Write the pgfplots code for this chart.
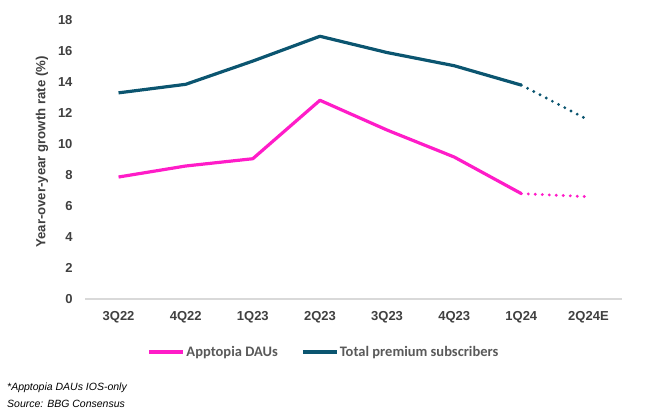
\documentclass[border=0pt]{standalone}
\usepackage{pgfplots}
\pgfplotsset{compat=1.18}
\usepackage{fontspec}
\setmainfont{Liberation Sans}
\newfontfamily\legfont{Carlito}
\definecolor{teal1}{HTML}{0B5570}
\definecolor{pink1}{HTML}{FF1CC8}
\definecolor{txt}{HTML}{404040}
\definecolor{legtxt}{HTML}{595959}
\definecolor{axl}{HTML}{D9D9D9}
\begin{document}
\begin{tikzpicture}
\path[use as bounding box] (0,0) rectangle (646bp,413bp);
\begin{axis}[
  at={(85bp,114bp)}, anchor=south west,
  scale only axis, width=537bp, height=279bp,
  xmin=-0.5, xmax=7.5, ymin=0, ymax=18,
  ytick={0,2,...,18},
  xtick={0,...,7},
  xticklabels={3Q22,4Q22,1Q23,2Q23,3Q23,4Q23,1Q24,2Q24E},
  axis x line*=bottom, axis y line*=left,
  x axis line style={axl, line width=1.2bp, -},
  y axis line style={draw=none},
  major tick length=0pt,
  /pgf/number format/assume math mode=true,
  tick label style={font=\fontsize{13bp}{15bp}\selectfont\bfseries, text=txt},
  xticklabel style={yshift=-9bp},
  yticklabel style={xshift=-9bp},
  ylabel={Year-over-year growth rate (\%)},
  ylabel style={at={(axis description cs:-0.08,0.527)}, anchor=center, font=\fontsize{13.2bp}{15bp}\selectfont\bfseries, text=txt},
  legend columns=2,
  legend style={at={(0.444,-0.19)}, anchor=center, draw=none, fill=none,
    font=\legfont\fontsize{14.5bp}{16bp}\selectfont\bfseries, text=legtxt,
    nodes={inner sep=1bp},
    /tikz/every even column/.append style={column sep=22bp}},
  legend image code/.code={\draw[#1, line width=4bp] (0bp,0bp) -- (34bp,0bp);},
]
\addplot[pink1, line width=3.2bp, line join=round] coordinates {
 (0,7.87) (1,8.58) (2,9.05) (3,12.82) (4,10.9) (5,9.16) (6,6.8)};
\addlegendentry{Apptopia DAUs}
\addplot[teal1, line width=3.2bp, line join=round] coordinates {
 (0,13.3) (1,13.85) (2,15.35) (3,16.95) (4,15.9) (5,15.05) (6,13.8)};
\addlegendentry{Total premium subscribers}
\addplot[pink1, line width=3.2bp, line cap=round, dash pattern=on 0pt off 7bp, forget plot] coordinates {
 (6,6.8) (7,6.6)};
\addplot[teal1, line width=3.2bp, line cap=round, dash pattern=on 0pt off 7bp, forget plot] coordinates {
 (6,13.8) (7,11.55)};
\end{axis}
\node[anchor=base west, inner sep=0, font=\fontsize{10.5bp}{12bp}\selectfont\itshape] at (7bp,23bp) {*Apptopia DAUs IOS-only};
\node[anchor=base west, inner sep=0, font=\fontsize{10.5bp}{12bp}\selectfont\itshape] at (7bp,6bp) {Source: BBG Consensus};
\end{tikzpicture}
\end{document}
